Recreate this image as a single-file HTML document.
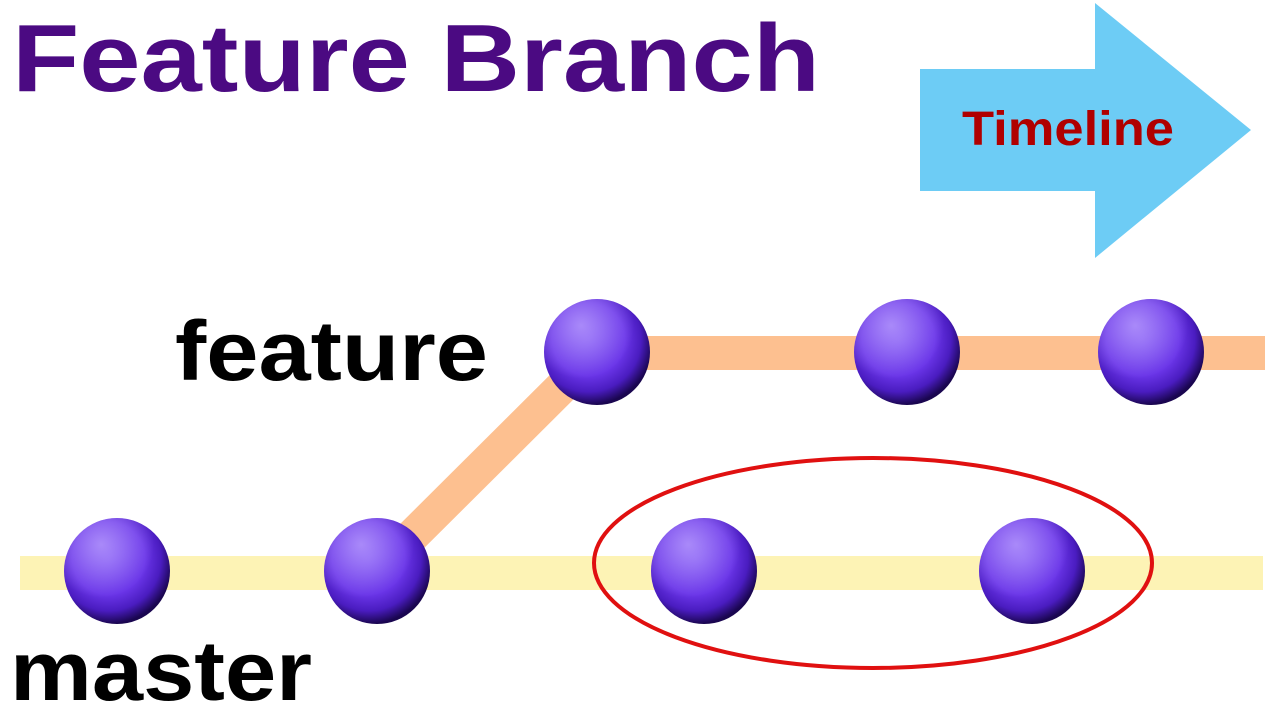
<!DOCTYPE html>
<html><head><style>html,body{margin:0;padding:0;background:#fff;width:1280px;height:712px;overflow:hidden}</style></head>
<body>
<svg width="1280" height="712" viewBox="0 0 1280 712" xmlns="http://www.w3.org/2000/svg" font-family="Liberation Sans, sans-serif">
<defs>
<radialGradient id="g" cx="0.42" cy="0.38" r="0.62">
<stop offset="0" stop-color="#7a4cf0"/>
<stop offset="0.55" stop-color="#6a35e8"/>
<stop offset="0.8" stop-color="#4a1cc0"/>
<stop offset="1" stop-color="#1a0650"/>
</radialGradient>
<radialGradient id="h" cx="0.35" cy="0.25" r="0.5">
<stop offset="0" stop-color="#c0a8ff" stop-opacity="0.7"/>
<stop offset="1" stop-color="#c0a8ff" stop-opacity="0"/>
</radialGradient>
</defs>
<text x="12" y="91" font-size="96" font-weight="bold" fill="#4b0a82" textLength="808" lengthAdjust="spacingAndGlyphs">Feature Branch</text>
<polygon points="920,69 1095,69 1095,3 1251,130 1095,258 1095,191 920,191" fill="#6dccf5"/>
<text x="1068" y="145" font-size="48" font-weight="bold" fill="#b00000" text-anchor="middle" textLength="212" lengthAdjust="spacingAndGlyphs">Timeline</text>
<rect x="20" y="556" width="1243" height="34" fill="#fdf3b5"/>
<rect x="597" y="336" width="668" height="34" fill="#fdc090"/>
<line x1="377" y1="571" x2="597" y2="352" stroke="#fdc090" stroke-width="34"/>
<text x="175" y="380" font-size="84" font-weight="bold" fill="#000" textLength="313" lengthAdjust="spacingAndGlyphs">feature</text>
<text x="10" y="700" font-size="84" font-weight="bold" fill="#000" textLength="302" lengthAdjust="spacingAndGlyphs">master</text>
<ellipse cx="873" cy="563" rx="279" ry="105" fill="none" stroke="#e01010" stroke-width="4"/>
<g>
<circle cx="597" cy="352" r="53" fill="url(#g)"/><circle cx="597" cy="352" r="53" fill="url(#h)"/>
<circle cx="907" cy="352" r="53" fill="url(#g)"/><circle cx="907" cy="352" r="53" fill="url(#h)"/>
<circle cx="1151" cy="352" r="53" fill="url(#g)"/><circle cx="1151" cy="352" r="53" fill="url(#h)"/>
<circle cx="117" cy="571" r="53" fill="url(#g)"/><circle cx="117" cy="571" r="53" fill="url(#h)"/>
<circle cx="377" cy="571" r="53" fill="url(#g)"/><circle cx="377" cy="571" r="53" fill="url(#h)"/>
<circle cx="704" cy="571" r="53" fill="url(#g)"/><circle cx="704" cy="571" r="53" fill="url(#h)"/>
<circle cx="1032" cy="571" r="53" fill="url(#g)"/><circle cx="1032" cy="571" r="53" fill="url(#h)"/>
</g>
</svg>
</body></html>
